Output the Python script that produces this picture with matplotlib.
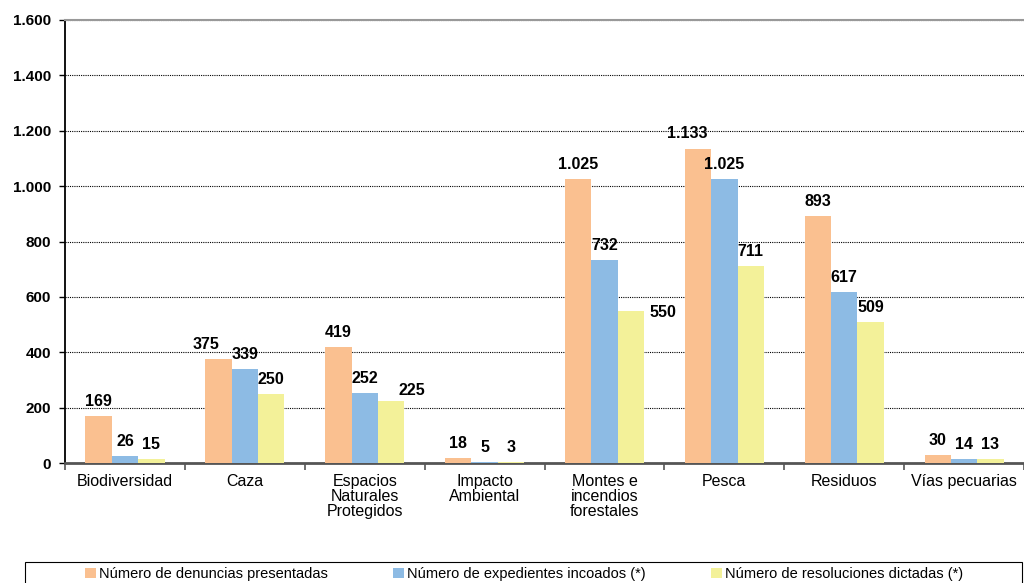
import numpy as np
import matplotlib.pyplot as plt
from matplotlib.patches import Rectangle

plt.rcParams['font.family'] = ['Liberation Sans', 'DejaVu Sans']

# datos
categorias = ['Biodiversidad', 'Caza', 'Espacios\nNaturales\nProtegidos', 'Impacto\nAmbiental',
              'Montes e\nincendios\nforestales', 'Pesca', 'Residuos', 'Vías pecuarias']
denuncias = [169, 375, 419, 18, 1025, 1133, 893, 30]
expedientes = [26, 339, 252, 5, 732, 1025, 617, 14]
resoluciones = [15, 250, 225, 3, 550, 711, 509, 13]

series = [
    ('Número de denuncias presentadas', denuncias, '#FAC090'),
    ('Número de expedientes incoados (*)', expedientes, '#8DBBE4'),
    ('Número de resoluciones dictadas (*)', resoluciones, '#F3F199'),
]

# desplazamientos manuales de etiquetas (como en el original): (serie, categoria) -> (dx, dy) en puntos
ajustes = {(0, 1): (-9, 0), (2, 2): (15, -3), (2, 4): (23, -12), (0, 5): (-8, 1)}


def fmt(v):
    return f'{v:,}'.replace(',', '.')


fig = plt.figure(figsize=(10.24, 5.83), dpi=100)
ax = fig.add_axes([0.0635, 0.2058, 0.9365, 0.7599])

x = np.arange(len(categorias))
w = 0.22
for i, (nombre, vals, color) in enumerate(series):
    pos = x + (i - 1) * w
    ax.bar(pos, vals, width=w, color=color, label=nombre, zorder=3)
    for j, (px, v) in enumerate(zip(pos, vals)):
        dx, dy = ajustes.get((i, j), (0, 0))
        ax.annotate(fmt(v), (px, v), xytext=(dx, 5 + dy), textcoords='offset points',
                    ha='center', va='bottom', fontsize=11.5, fontweight='bold', zorder=4)

ax.set_xlim(-0.5, len(categorias) - 0.5)
ax.set_ylim(0, 1600)
ax.set_yticks(np.arange(0, 1601, 200))
ax.set_yticklabels([fmt(v) for v in range(0, 1601, 200)], fontsize=11, fontweight='bold')
ax.grid(axis='y', linestyle=(0, (1, 1)), color='black', linewidth=0.8, zorder=0)

ax.set_xticks(x)
ax.set_xticklabels(categorias, fontsize=11.5, linespacing=1.0)
ax.set_xticks(np.arange(-0.5, len(categorias), 1), minor=True)
ax.tick_params(axis='x', which='major', length=0, pad=8)
ax.tick_params(axis='x', which='minor', length=5, width=1.2, color='#555555')
ax.tick_params(axis='y', length=4, width=1, color='black', pad=6)

ax.spines['right'].set_visible(False)
ax.spines['top'].set_color('#999999')
ax.spines['top'].set_linewidth(1.5)
ax.spines['left'].set_color('black')
ax.spines['left'].set_linewidth(1.3)
ax.spines['bottom'].set_color('#555555')
ax.spines['bottom'].set_linewidth(2)

# marco de la leyenda (cortado por el borde inferior, como en el original)
fig.patches.append(Rectangle((25 / 1024, -0.05), 997 / 1024, 0.05 + 21 / 583,
                             transform=fig.transFigure, fill=False, edgecolor='black',
                             linewidth=0.8))
fig.legend(loc='center', bbox_to_anchor=(524 / 1024, 1 - 574 / 583), ncol=3, fontsize=10.5,
           frameon=False, handlelength=0.75, handleheight=0.75, handletextpad=0.2,
           columnspacing=4.5, borderaxespad=0)

fig.savefig('out.png', dpi=100)
